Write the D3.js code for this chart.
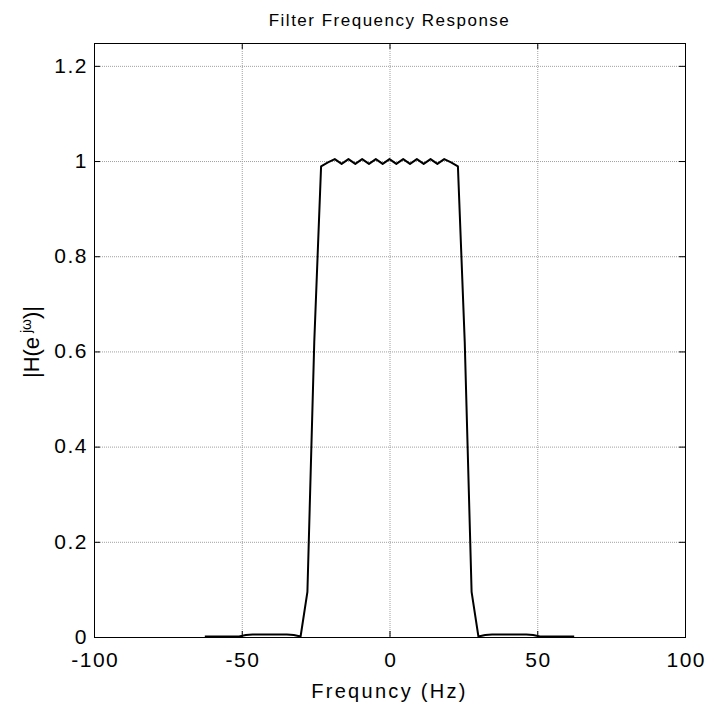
<!DOCTYPE html>
<html lang="en">
<head>
    <meta charset="UTF-8">
    <title>Filter Frequency Response</title>
    <script src="https://d3js.org/d3.v7.js"></script>
    <style>
        body { margin: 0; background: #fff; }
        text { font-family: "Liberation Sans", Arial, sans-serif; fill: #000; }
    </style>
</head>
<body>
<svg></svg>
<script>
    // frequency samples (Hz) and magnitude response
    let freqs = [
        -62.5, -60.19, -57.87, -55.56, -53.24, -50.93, -48.61, -46.30, -43.98, -41.67,
        -39.35, -37.04, -34.72, -32.41, -30.09, -27.78, -25.46, -23.15, -20.83, -18.52,
        -16.20, -13.89, -11.57, -9.26, -6.94, -4.63, -2.31, 0,
        2.31, 4.63, 6.94, 9.26, 11.57, 13.89, 16.20, 18.52, 20.83, 23.15,
        25.46, 27.78, 30.09, 32.41, 34.72, 37.04, 39.35, 41.67, 43.98, 46.30,
        48.61, 50.93, 53.24, 55.56, 57.87, 60.19, 62.5
    ];
    let mags = [
        0.001, 0.001, 0.001, 0.001, 0.001, 0.001, 0.004, 0.005, 0.005, 0.005,
        0.005, 0.005, 0.005, 0.004, 0.001, 0.095, 0.62, 0.989, 0.997, 1.004,
        0.994, 1.004, 0.994, 1.004, 0.994, 1.004, 0.994, 1.004,
        0.994, 1.004, 0.994, 1.004, 0.994, 1.004, 0.994, 1.004, 0.997, 0.989,
        0.62, 0.095, 0.001, 0.004, 0.005, 0.005, 0.005, 0.005, 0.005, 0.005,
        0.004, 0.001, 0.001, 0.001, 0.001, 0.001, 0.001
    ];
    let xTicks = [-100, -50, 0, 50, 100];
    let yTicks = [0, 0.2, 0.4, 0.6, 0.8, 1, 1.2];

    let width = 708;
    let height = 704;
    let mLeft = 94, mRight = 685, mTop = 43, mBottom = 637;

    let svg = d3.select("svg")
        .attr("width", width)
        .attr("height", height);

    let x = d3.scaleLinear().domain([-100, 100]).range([mLeft, mRight]);
    let y = d3.scaleLinear().domain([0, 1.248]).range([mBottom, mTop]);

    // grid lines
    let grid = svg.append("g");
    grid.selectAll("line.gx").data(xTicks.slice(1, -1)).enter().append("line")
        .attr("x1", d => x(d) + 0.5).attr("x2", d => x(d) + 0.5)
        .attr("y1", mTop).attr("y2", mBottom)
        .attr("stroke", "#a0a0a0").attr("stroke-dasharray", "1,1");
    grid.selectAll("line.gy").data(yTicks.slice(1)).enter().append("line")
        .attr("y1", d => y(d) + 0.5).attr("y2", d => y(d) + 0.5)
        .attr("x1", mLeft).attr("x2", mRight)
        .attr("stroke", "#a0a0a0").attr("stroke-dasharray", "1,1");

    // the response curve
    let line = d3.line()
        .x((d, i) => x(freqs[i]))
        .y(d => y(d));
    svg.append("path")
        .datum(mags)
        .attr("d", line)
        .attr("fill", "none")
        .attr("stroke", "#000")
        .attr("stroke-width", 2)
        .attr("stroke-linejoin", "round");

    // box
    svg.append("rect")
        .attr("x", mLeft + 0.5).attr("y", mTop + 0.5)
        .attr("width", mRight - mLeft).attr("height", mBottom - mTop)
        .attr("fill", "none").attr("stroke", "#000");

    // axes with inward ticks, MATLAB style
    let tickLen = 6;
    let xAxis = d3.axisBottom(x).tickValues(xTicks).tickSize(-tickLen).tickPadding(15)
        .tickFormat(d => String(d));
    svg.append("g").attr("transform", "translate(0," + mBottom + ")").call(xAxis)
        .call(g => g.select(".domain").remove())
        .selectAll("text").style("font-size", "21px").style("letter-spacing", "1.5px")
        .attr("dx", "0.75px")
        .style("font-family", "'Liberation Sans', Arial, sans-serif");
    svg.append("g").attr("transform", "translate(0," + mTop + ")")
        .call(d3.axisTop(x).tickValues(xTicks).tickSize(-tickLen).tickFormat(""))
        .call(g => g.select(".domain").remove());

    let yAxis = d3.axisLeft(y).tickValues(yTicks).tickSize(-tickLen).tickPadding(6)
        .tickFormat(d => String(d));
    svg.append("g").attr("transform", "translate(" + mLeft + ",0)").call(yAxis)
        .call(g => g.select(".domain").remove())
        .selectAll("text").style("font-size", "21px").style("letter-spacing", "1.5px")
        .attr("dy", "0.3em")
        .style("font-family", "'Liberation Sans', Arial, sans-serif");
    svg.append("g").attr("transform", "translate(" + mRight + ",0)")
        .call(d3.axisRight(y).tickValues(yTicks).tickSize(-tickLen).tickFormat(""))
        .call(g => g.select(".domain").remove());

    // title and labels
    svg.append("text")
        .attr("x", (mLeft + mRight) / 2).attr("y", 26)
        .attr("text-anchor", "middle")
        .style("font-size", "17px").style("letter-spacing", "1.5px")
        .text("Filter Frequency Response");

    svg.append("text")
        .attr("x", (mLeft + mRight) / 2).attr("y", 698)
        .attr("text-anchor", "middle")
        .style("font-size", "20px").style("letter-spacing", "2.3px")
        .text("Frequncy (Hz)");

    let yl = svg.append("text")
        .attr("transform", "translate(39," + ((mTop + mBottom) / 2 + 2) + ") rotate(-90)")
        .attr("text-anchor", "middle")
        .style("font-size", "22px");
    yl.append("tspan").text("|H(e");
    yl.append("tspan").attr("dy", -8).style("font-size", "14px").text(" j\u03C9");
    yl.append("tspan").attr("dy", 8).text(")|");
</script>
</body>
</html>
